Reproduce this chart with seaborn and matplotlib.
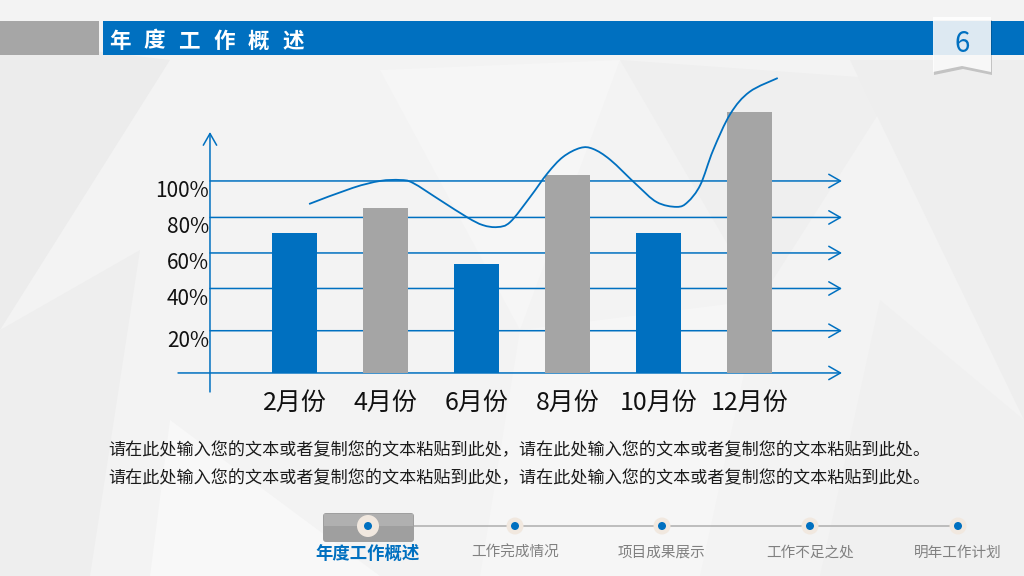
import numpy as np
import pandas as pd
import matplotlib
matplotlib.use("Agg")
import matplotlib.pyplot as plt
import seaborn as sns
from matplotlib.path import Path
from matplotlib.patches import PathPatch, Polygon, Rectangle, FancyBboxPatch, Circle

sns.set_theme(style="white")
plt.rcParams['font.family'] = ['Noto Sans CJK SC', 'DejaVu Sans']

BLUE = '#0070c0'
GRAY = '#a5a5a5'

# ---------------------------------------------------------------------
# data
# ---------------------------------------------------------------------
months = ['2月份', '4月份', '6月份', '8月份', '10月份', '12月份']
bar_values = [73, 86, 57, 103, 73, 136]
bar_colors = [BLUE, GRAY, BLUE, GRAY, BLUE, GRAY]

grid_labels = ['20%', '40%', '60%', '80%', '100%']
grid_levels = [22, 44, 62.5, 81, 100]

# hand-drawn trend curve, x in month slots, y in percent
trend_x = [0.16, 0.64, 0.94, 1.16, 1.30, 1.60, 1.90, 2.07, 2.23, 2.37, 2.59,
           2.78, 2.95, 3.14, 3.28, 3.47, 3.76, 3.98, 4.20, 4.32, 4.46, 4.60,
           4.79, 5.00, 5.31]
trend_y = [88, 96.4, 100, 100.5, 99, 90, 81, 77, 76, 78.6, 91.7,
           104, 112.5, 117.2, 116.7, 111, 98, 89, 86.5, 89, 98, 116,
           135, 146.4, 153.6]

title_chars = list('年度工作概述')
page_no = '6'
body_line = '请在此处输入您的文本或者复制您的文本粘贴到此处，请在此处输入您的文本或者复制您的文本粘贴到此处。'
nav_labels = ['年度工作概述', '工作完成情况', '项目成果展示', '工作不足之处', '明年工作计划']
nav_active = 0


def smooth_path(xs, ys):
    pts = np.column_stack([xs, ys]).astype(float)
    verts = [pts[0]]
    codes = [Path.MOVETO]
    for i in range(len(pts) - 1):
        p0 = pts[max(i - 1, 0)]
        p1, p2 = pts[i], pts[i + 1]
        p3 = pts[min(i + 2, len(pts) - 1)]
        verts += [p1 + (p2 - p0) / 6, p2 - (p3 - p1) / 6, p2]
        codes += [Path.CURVE4] * 3
    return Path(verts, codes)


fig = plt.figure(figsize=(10.24, 5.76), dpi=100)

# ---------------------------------------------------------------------
# slide background + decorations (pixel coordinates)
# ---------------------------------------------------------------------
bg = fig.add_axes([0, 0, 1, 1], zorder=0)
bg.set_xlim(0, 1024)
bg.set_ylim(576, 0)
bg.axis('off')
bg.add_patch(Rectangle((0, 0), 1024, 576, color='#f3f3f3', zorder=0))

# faint low-poly texture
facets = [
    ([(0, 40), (170, 60), (0, 330)], '#ececec'),
    ([(0, 330), (140, 250), (90, 576), (0, 576)], '#eeeeee'),
    ([(170, 420), (380, 576), (150, 576)], '#f8f8f8'),
    ([(380, 70), (620, 60), (520, 330)], '#f6f6f6'),
    ([(620, 60), (900, 80), (760, 300)], '#efefef'),
    ([(850, 60), (1024, 60), (1024, 420)], '#eeeeee'),
    ([(880, 300), (1024, 420), (1024, 576), (820, 576)], '#f0f0f0'),
    ([(520, 330), (760, 300), (700, 576), (480, 576)], '#f6f6f6'),
]
for pts, col in facets:
    bg.add_patch(Polygon(pts, closed=True, color=col, lw=0, zorder=0.5))

# title bar
bg.add_patch(Rectangle((0, 21), 99, 34, color='#a6a6a6', lw=0, zorder=1))
bg.add_patch(Rectangle((103, 21), 921, 34, color=BLUE, lw=0, zorder=1))
for i, ch in enumerate(title_chars):
    bg.text(120 + 34.6 * i, 41, ch, color='white', fontsize=15.5,
            fontweight='bold', ha='center', va='center', zorder=2)

# page number tag
tag = [(933, 17), (991, 17), (991, 72), (962, 66), (933, 72)]
shadow = [(x + 1, y + 3) for x, y in tag]
bg.add_patch(Polygon(shadow, closed=True, color='#000000', alpha=0.18, lw=0, zorder=2))
bg.add_patch(Polygon(tag, closed=True, color='white', alpha=0.87, lw=0, zorder=3))
bg.text(962, 44, page_no, color=BLUE, fontsize=20, ha='center', va='center', zorder=4)

# body text
for yy in [450, 478]:
    bg.text(108, yy, body_line, fontsize=12.3, color='#1a1a1a', va='center', zorder=2)

# bottom navigation
nav_x = [368, 515, 662, 810, 958]
bg.plot([nav_x[0], nav_x[-1]], [526, 526], color='#b3b3b3', lw=1.2, zorder=1)
bg.add_patch(FancyBboxPatch((323, 513), 91, 29, boxstyle='round,pad=0,rounding_size=3',
                            fc='#9f9f9f', ec='none', zorder=1.5))
bg.add_patch(Rectangle((324, 514), 89, 12, color='#b0b0b0', lw=0, zorder=1.6))
for i, (nx, lab) in enumerate(zip(nav_x, nav_labels)):
    r = 11 if i == nav_active else 8.5
    bg.add_patch(Circle((nx, 526), r, color='#f1e8df', lw=0, zorder=2))
    bg.add_patch(Circle((nx, 526), 4, color=BLUE, lw=0, zorder=3))
    if i == nav_active:
        bg.text(nx, 554, lab, fontsize=12.5, fontweight='bold', color=BLUE,
                ha='center', va='center', zorder=2)
    else:
        bg.text(nx, 553, lab, fontsize=10.5, color='#808080',
                ha='center', va='center', zorder=2)

# ---------------------------------------------------------------------
# chart
# ---------------------------------------------------------------------
ax = fig.add_axes([140 / 1024, 1 - 420 / 576, 720 / 1024, 360 / 576], zorder=1)
ax.patch.set_alpha(0)

df = pd.DataFrame({'month': months, 'value': bar_values})
sns.barplot(data=df, x='month', y='value', hue='month', palette=bar_colors,
            width=0.5, saturation=1, legend=False, ax=ax, zorder=2,
            edgecolor='none', linewidth=0)

ax.set_xlim(-1.698, 6.214)
ax.set_ylim(-24.5, 163)
ax.axis('off')

x_axis, x_end, x_base = -0.929, 6.016, -1.28
arrow_kw = dict(arrowstyle='->,head_length=0.7,head_width=0.4', color=BLUE,
                lw=1.1, shrinkA=0, shrinkB=0)
for lvl, lab in zip(grid_levels, grid_labels):
    ax.annotate('', xy=(x_end, lvl), xytext=(x_axis, lvl), arrowprops=arrow_kw, zorder=1)
    ax.text(x_axis - 0.01, lvl + 0.5, lab, fontsize=15, color='#111111',
            ha='right', va='top')
ax.annotate('', xy=(x_end, 0), xytext=(x_base, 0), arrowprops=arrow_kw, zorder=1)
ax.annotate('', xy=(x_axis, 125.5), xytext=(x_axis, -9.9), arrowprops=arrow_kw, zorder=1)

for i, m in enumerate(months):
    ax.text(i, -15.6, m, fontsize=18, color='#111111', ha='center', va='center')

ax.add_patch(PathPatch(smooth_path(trend_x, trend_y), fc='none', ec=BLUE,
                       lw=1.3, zorder=3))

fig.savefig('out.png', dpi=100)
